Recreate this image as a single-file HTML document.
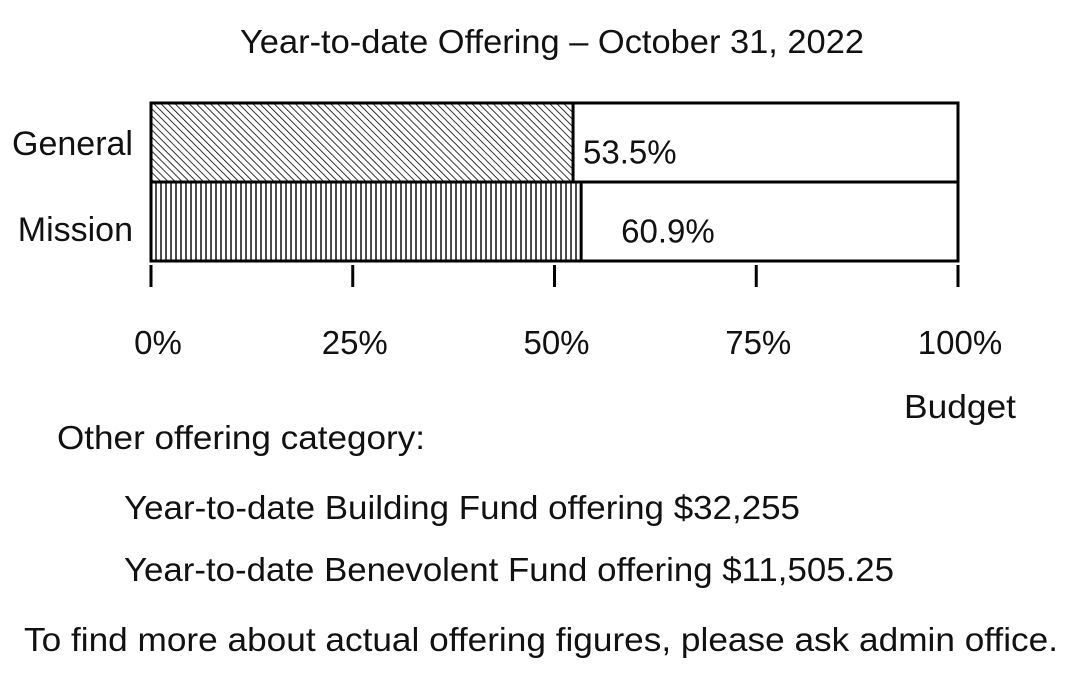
<!DOCTYPE html>
<html><head><meta charset="utf-8"><style>
body{margin:0;background:#fff;width:1086px;height:671px;overflow:hidden;font-family:"Liberation Sans",sans-serif;}
svg text{font-family:"Liberation Sans",sans-serif;fill:#111;}
</style></head><body>
<svg width="1086" height="671">
<defs>
<pattern id="diag" width="5" height="5" patternUnits="userSpaceOnUse" patternTransform="rotate(-45)">
<rect width="5" height="5" fill="#fff"/><line x1="0" y1="0" x2="0" y2="5" stroke="#000" stroke-width="1.6"/></pattern>
<pattern id="vert" width="5" height="5" patternUnits="userSpaceOnUse">
<rect width="5" height="5" fill="#fff"/><line x1="1" y1="0" x2="1" y2="5" stroke="#000" stroke-width="1.4"/></pattern>
</defs>
<text x="240" y="53" font-size="33" textLength="624" lengthAdjust="spacingAndGlyphs">Year-to-date Offering – October 31, 2022</text>
<g id="bars"></g>
<g id="axis"></g>
<text x="904" y="418" font-size="33" textLength="112" lengthAdjust="spacingAndGlyphs">Budget</text>
<text x="57" y="449" font-size="33" textLength="368" lengthAdjust="spacingAndGlyphs">Other offering category:</text>
<text x="124" y="519" font-size="33" textLength="676" lengthAdjust="spacingAndGlyphs">Year-to-date Building Fund offering $32,255</text>
<text x="124" y="581" font-size="33" textLength="770" lengthAdjust="spacingAndGlyphs">Year-to-date Benevolent Fund offering $11,505.25</text>
<text x="24" y="651" font-size="33" textLength="1034" lengthAdjust="spacingAndGlyphs">To find more about actual offering figures, please ask admin office.</text>
</svg>
<script>
const categories=["General","Mission"];
const barValues=[52.3,53.3];
const valueLabels=["53.5%","60.9%"];
const ticks=[0,25,50,75,100];
const tickLabels=["0%","25%","50%","75%","100%"];
const NS="http://www.w3.org/2000/svg";
const x0=151,x1=958;
const xs=v=>x0+(x1-x0)*v/100;
const rowTop=[103,182],rowH=79;
const pats=["url(#diag)","url(#vert)"];
const labelOffsets=[10,40];
const catLabelY=[155,241];
const bars=document.getElementById("bars");
function mk(t,a){const e=document.createElementNS(NS,t);for(const k in a)e.setAttribute(k,a[k]);return e;}
categories.forEach((c,i)=>{
 const y=rowTop[i];
 const out=mk("rect",{x:xs(0),y:y,width:xs(100)-xs(0),height:rowH,fill:"#fff",stroke:"#000","stroke-width":3});
 
 
 bars.appendChild(out);
 const b=mk("rect",{x:xs(0),y:y,width:xs(barValues[i])-xs(0),height:rowH,fill:pats[i],stroke:"#000","stroke-width":3});
 
 
 bars.appendChild(b);
 const cl=mk("text",{x:133,y:catLabelY[i],"font-size":34,"text-anchor":"end"});
 cl.textContent=c;
 
 
 bars.appendChild(cl);
 const vl=mk("text",{x:xs(barValues[i])+labelOffsets[i],y:y+rowH/2+21,"font-size":33});
 vl.textContent=valueLabels[i];
 
 
 bars.appendChild(vl);
});
const ax=document.getElementById("axis");
ticks.forEach((t,i)=>{
 const x=xs(t);
 const l=mk("line",{x1:x,y1:265,x2:x,y2:287,stroke:"#000","stroke-width":3});
 
 
 ax.appendChild(l);
 const tx=mk("text",{x:x+(i==0?7:2),y:354,"font-size":33,"text-anchor":"middle"});
 tx.textContent=tickLabels[i];
 
 
 ax.appendChild(tx);
});
</script>
</body></html>
